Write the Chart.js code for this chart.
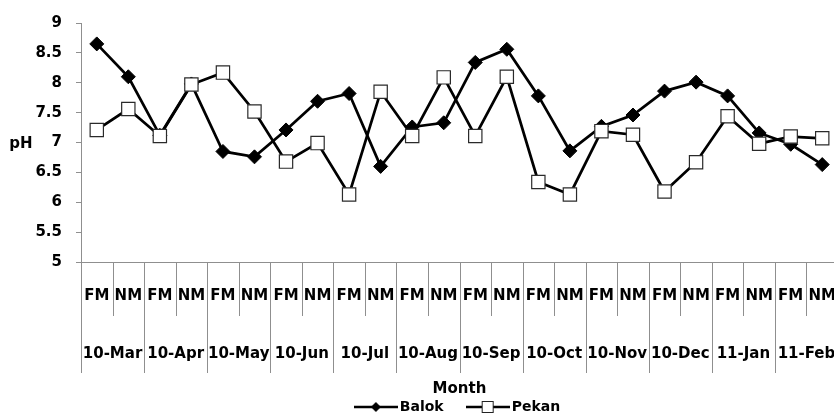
<!DOCTYPE html>
<html>
<head>
<meta charset="utf-8">
<title>pH by month – Balok and Pekan</title>
<script src="https://cdn.jsdelivr.net/npm/chart.js@4/dist/chart.umd.min.js"></script>
<style>
  html, body { margin: 0; padding: 0; background: #fff; overflow: hidden; width: 834px; height: 414px; }
  canvas { display: block; }
</style>
</head>
<body>
<canvas id="chart" width="840" height="414"></canvas>
<script>
// Sampling months and the two moon phases sampled in each (full moon / new moon)
const months = ['10-Mar', '10-Apr', '10-May', '10-Jun', '10-Jul', '10-Aug',
                '10-Sep', '10-Oct', '10-Nov', '10-Dec', '11-Jan', '11-Feb'];
const phases = ['FM', 'NM'];

// Water pH at each station, one value per month and phase
const balok = [8.65, 8.10, 7.12, 7.98, 6.85, 6.76, 7.21, 7.69, 7.82, 6.60, 7.26, 7.33,
               8.34, 8.56, 7.78, 6.86, 7.27, 7.46, 7.86, 8.01, 7.78, 7.16, 6.97, 6.63];
const pekan = [7.21, 7.56, 7.11, 7.97, 8.17, 7.52, 6.68, 6.99, 6.13, 7.85, 7.11, 8.09,
               7.11, 8.10, 6.34, 6.13, 7.19, 7.13, 6.18, 6.67, 7.44, 6.98, 7.10, 7.07];

// Value axis range
const yMin = 5, yMax = 9, yStep = 0.5;

const categories = months.flatMap(m => phases.map(p => m + ' ' + p));

const FONT = '"DejaVu Sans", sans-serif';
const AXIS_GREY = '#8f8f8f';

// Legend swatches: a short line with the series marker in the middle
function swatch(kind) {
  const c = document.createElement('canvas');
  c.width = 44; c.height = 16;
  const g = c.getContext('2d');
  g.strokeStyle = '#000';
  g.lineWidth = 2.5;
  g.beginPath(); g.moveTo(0, 8); g.lineTo(44, 8); g.stroke();
  if (kind === 'diamond') {
    g.fillStyle = '#000';
    g.beginPath();
    g.moveTo(17, 8); g.lineTo(22, 3); g.lineTo(27, 8); g.lineTo(22, 13);
    g.closePath(); g.fill();
  } else {
    g.fillStyle = '#fff';
    g.fillRect(16.5, 2.5, 11, 11);
    g.strokeStyle = '#222'; g.lineWidth = 1;
    g.strokeRect(16.5, 2.5, 11, 11);
  }
  return c;
}
const swatches = [swatch('diamond'), swatch('square')];

// Two-level category labels under the x axis, plus the horizontal "pH" label
const axisDecor = {
  id: 'axisDecor',
  afterDraw(chart) {
    const { ctx, scales: { x, y } } = chart;
    const base = x.top;
    const step = x.getPixelForValue(1) - x.getPixelForValue(0);
    ctx.save();
    ctx.strokeStyle = AXIS_GREY;
    ctx.lineWidth = 1;
    for (let i = 0; i <= categories.length; i++) {
      const px = Math.round(x.getPixelForValue(i) - step / 2) + 0.5;
      const len = i % 2 === 0 ? 111 : 54;
      ctx.beginPath(); ctx.moveTo(px, base); ctx.lineTo(px, base + len); ctx.stroke();
    }
    ctx.fillStyle = '#000';
    ctx.font = 'bold 15px ' + FONT;
    ctx.textAlign = 'center';
    ctx.textBaseline = 'middle';
    categories.forEach((_, i) => {
      ctx.fillText(phases[i % 2], x.getPixelForValue(i), base + 34);
    });
    months.forEach((m, k) => {
      const cx = (x.getPixelForValue(2 * k) + x.getPixelForValue(2 * k + 1)) / 2;
      ctx.fillText(m, cx, base + 92);
    });
    ctx.fillText('pH', 21, y.getPixelForValue(7) + 2);
    ctx.restore();
  }
};

new Chart(document.getElementById('chart'), {
  type: 'line',
  data: {
    labels: categories,
    datasets: [
      {
        label: 'Balok',
        data: balok,
        order: 1,
        borderColor: '#000',
        borderWidth: 2.75,
        pointStyle: 'rectRot',
        pointRadius: 7,
        pointHoverRadius: 7,
        pointBackgroundColor: '#000',
        pointBorderColor: '#000',
        pointBorderWidth: 1,
        tension: 0,
        fill: false
      },
      {
        label: 'Pekan',
        data: pekan,
        order: 0,
        borderColor: '#000',
        borderWidth: 2.75,
        pointStyle: 'rect',
        pointRadius: 9.4,
        pointHoverRadius: 9.4,
        pointBackgroundColor: '#fff',
        pointBorderColor: '#2a2a2a',
        pointBorderWidth: 1.2,
        tension: 0,
        fill: false
      }
    ]
  },
  options: {
    responsive: false,
    animation: false,
    devicePixelRatio: 1,
    layout: { autoPadding: false, padding: { left: 0, right: 2, top: 18, bottom: -10 } },
    scales: {
      x: {
        type: 'category',
        offset: true,
        grid: { display: false },
        border: { display: true, color: AXIS_GREY, width: 1 },
        ticks: { display: false },
        title: {
          display: true,
          text: 'Month',
          color: '#000',
          font: { family: FONT, size: 15, weight: 'bold' },
          padding: { top: 0, bottom: -25 }
        },
        afterFit(scale) { scale.height = 111; }
      },
      y: {
        min: yMin,
        max: yMax,
        grid: { drawOnChartArea: false, drawTicks: true, tickLength: 5, color: AXIS_GREY },
        border: { display: true, color: AXIS_GREY, width: 1 },
        ticks: {
          stepSize: yStep,
          padding: 14,
          color: '#000',
          font: { family: FONT, size: 15, weight: 'bold' },
          callback: value => String(value)
        },
        afterFit(scale) { scale.width = 81; }
      }
    },
    plugins: {
      legend: {
        display: true,
        position: 'bottom',
        fullSize: false,
        labels: {
          usePointStyle: true,
          pointStyleWidth: 34,
          padding: 27,
          color: '#000',
          font: { family: FONT, size: 14, weight: 'bold' },
          sort: (a, b) => a.datasetIndex - b.datasetIndex,
          generateLabels(chart) {
            const items = Chart.defaults.plugins.legend.labels.generateLabels(chart);
            items.forEach(it => { it.pointStyle = swatches[it.datasetIndex]; });
            return items;
          }
        }
      },
      tooltip: { enabled: false }
    }
  },
  plugins: [axisDecor]
});
</script>
</body>
</html>
